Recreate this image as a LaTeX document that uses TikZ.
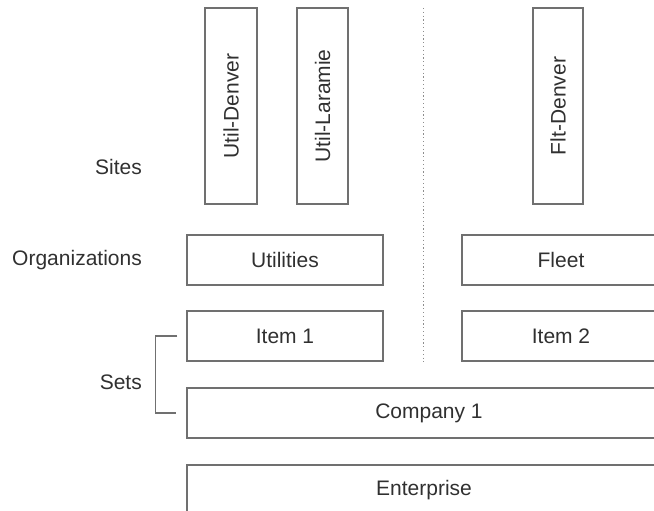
\documentclass[tikz,border=0pt]{standalone}
\usepackage{fontspec}
\setmainfont{Liberation Sans}
\begin{document}
\begin{tikzpicture}[x=1pt,y=-1pt,
  box/.style={draw=boxgray,line width=1.3pt,inner sep=0pt,text=txt,font=\fontsize{21}{25}\selectfont},
  lbl/.style={inner sep=0pt,text=txt,font=\fontsize{21}{25}\selectfont,anchor=east},
  conn/.style={draw=boxgray,line width=1.2pt}]
\definecolor{boxgray}{HTML}{707070}
\definecolor{txt}{HTML}{303030}
\clip (0,0) rectangle (654,511);
\useasboundingbox (0,0) rectangle (654,511);
% sites
\node[box,minimum width=52,minimum height=196] (ud) at (231,106) {\rotatebox{90}{Util-Denver}};
\node[box,minimum width=51,minimum height=196] (ul) at (322.5,106) {\rotatebox{90}{Util-Laramie}};
\node[box,minimum width=50,minimum height=196] (fd) at (558,106) {\rotatebox{90}{Flt-Denver}};
% organizations
\node[box,minimum width=196,minimum height=50] (ut) at (285,260) {Utilities};
\node[box,minimum width=198,minimum height=50] (fl) at (561,260) {Fleet};
% sets
\node[box,minimum width=196,minimum height=50] (i1) at (285,336) {Item 1};
\node[box,minimum width=198,minimum height=50] (i2) at (561,336) {Item 2};
\node[box,minimum width=484,minimum height=50] (c1) at (429,413) {Company 1};
\node[box,minimum width=474,minimum height=50] (en) at (424,490) {Enterprise};
% labels
\node[lbl] (ls) at (142,167) {Sites};
\node[lbl] (lo) at (142,260) {Organizations};
\node[lbl] (lt) at (142,382) {Sets};
% divider
\coordinate (dt) at (423,8);
\coordinate (db) at (423,362);
\draw[draw=boxgray!80,line width=1pt,dash pattern=on 1.2pt off 2.6pt] (dt) -- (db);
% bracket
\draw[conn] ([xshift=-9pt]i1.west) -- ++(-22,0) |- ([xshift=-10pt]c1.west);
\end{tikzpicture}
\end{document}
